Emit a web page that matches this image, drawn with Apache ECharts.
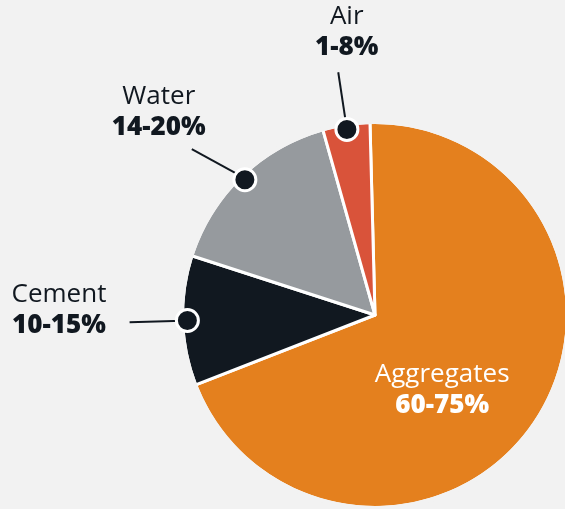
<!DOCTYPE html>
<html><head><meta charset="utf-8">
<script src="https://cdn.jsdelivr.net/npm/echarts@6/dist/echarts.min.js"></script>
<style>html,body{margin:0;padding:0;background:#f2f2f2}#c{width:565px;height:509px}</style>
</head><body><div id="c"></div>
<script>
// ---- data ----
const categories = ['Aggregates', 'Cement', 'Water', 'Air'];
const shares = [69.5, 10.9, 15.65, 3.95];
const rangeLabels = ['60-75%', '10-15%', '14-20%', '1-8%'];
const colors = ['#e4801e', '#111820', '#969a9e', '#d9533a'];

// ---- layout / style ----
const BG = '#f2f2f2';
const CENTER = [375, 315], R = 192.5, START = 91.5;
const DARK = '#111820';
const labelOffset = { Aggregates: [-15.5, 20], Cement: [-70.6, -11.7], Water: [-33, -36.7], Air: [8.5, -40] };
const lineEndShift = { Water: [-13, 11] };

const total = shares.reduce((a, b) => a + b, 0);
const mids = []; let acc = 0;
shares.forEach(v => { mids.push(acc + v / 2); acc += v; });

const chart = echarts.init(document.getElementById('c'), null, { renderer: 'canvas' });
chart.setOption({
  backgroundColor: BG,
  animation: false,
  polar: { center: CENTER, radius: R },
  angleAxis: { type: 'value', min: 0, max: total, startAngle: START, clockwise: true, show: false },
  radiusAxis: { type: 'value', min: 0, max: 1, show: false },
  series: [
    {
      type: 'pie', center: CENTER, radius: R, startAngle: START, clockwise: true,
      avoidLabelOverlap: false, z: 2,
      itemStyle: { borderColor: '#ffffff', borderWidth: 3 },
      label: {
        show: true, position: 'outside',
        formatter: p => '{n|' + p.name + '}\n{v|' + rangeLabels[p.dataIndex] + '}',
        rich: {
          n: { fontSize: 26, fontFamily: 'Open Sans', color: DARK, lineHeight: 31, align: 'center' },
          v: { fontSize: 26, fontFamily: 'Open Sans', fontWeight: 800, color: DARK, lineHeight: 31, align: 'center' }
        }
      },
      labelLine: { show: true, length: 53, length2: 0, smooth: false, lineStyle: { color: DARK, width: 2 } },
      labelLayout: function (p) {
        const name = categories[p.dataIndex];
        const off = labelOffset[name];
        if (p.labelLinePoints && p.labelLinePoints.length) {
          const pts = p.labelLinePoints.map(q => q.slice());
          const sh = lineEndShift[name];
          if (sh) {
            for (let k = 1; k < pts.length; k++) { pts[k][0] += sh[0]; pts[k][1] += sh[1]; }
          }
          const end = pts[pts.length - 1];
          return { x: end[0] + off[0], y: end[1] + off[1], align: 'center', verticalAlign: 'middle', labelLinePoints: pts };
        }
        return { dx: off[0], dy: off[1] };
      },
      data: categories.map((c, i) => {
        const d = { name: c, value: shares[i], itemStyle: { color: colors[i] } };
        if (i === 0) {
          d.label = {
            position: 'inside',
            rich: {
              n: { fontSize: 26, fontFamily: 'Open Sans', color: '#ffffff', lineHeight: 31, align: 'center' },
              v: { fontSize: 26, fontFamily: 'Open Sans', fontWeight: 800, color: '#ffffff', lineHeight: 31, align: 'center' }
            }
          };
          d.labelLine = { show: false };
        }
        return d;
      })
    },
    {
      // thin background-coloured ring hiding the outer part of the slice borders
      type: 'pie', center: CENTER, radius: [R - 1.6, R + 2.5], z: 3, silent: true,
      label: { show: false }, labelLine: { show: false },
      itemStyle: { color: BG, borderWidth: 0 },
      data: [{ name: '', value: 1 }]
    },
    {
      type: 'scatter', coordinateSystem: 'polar', z: 10, silent: true,
      symbol: 'circle', symbolSize: 22,
      itemStyle: { color: DARK, borderColor: '#ffffff', borderWidth: 3, opacity: 1 },
      data: categories.map((c, i) => i === 0 ? null : [0.975, mids[i]]).filter(d => d)
    }
  ]
});
</script>
</body></html>
